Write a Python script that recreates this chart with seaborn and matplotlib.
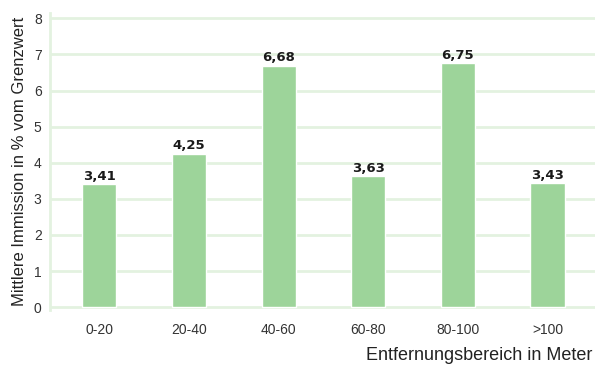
import matplotlib
matplotlib.use("Agg")
import matplotlib.pyplot as plt
import seaborn as sns
import pandas as pd

categories = ["0-20", "20-40", "40-60", "60-80", "80-100", ">100"]
values = [3.41, 4.25, 6.68, 3.63, 6.75, 3.43]
value_labels = ["3,41", "4,25", "6,68", "3,63", "6,75", "3,43"]
y_ticks = [0, 1, 2, 3, 4, 5, 6, 7, 8]

sns.set_theme(style="white")
plt.rcParams['font.family'] = ['Liberation Sans', 'DejaVu Sans']

df = pd.DataFrame({"cat": categories, "val": values})

fig = plt.figure(figsize=(5.95, 3.67), dpi=100)
ax = fig.add_axes([0.084, 0.155, 0.916, 0.81])

grid_c = "#e3f2e0"
for t in y_ticks:
    ax.axhline(t, color=grid_c, lw=2.0, zorder=0)

sns.barplot(data=df, x="cat", y="val", color="#9dd49a", saturation=1,
            width=0.38, ax=ax, zorder=2)

for i, (v, lab) in enumerate(zip(values, value_labels)):
    ax.text(i, v + 0.04, lab, ha="center", va="bottom", fontsize=9.5,
            fontweight="bold", color="#1a1a1a", family="DejaVu Sans")

ax.set_xlim(-0.55, 5.53)
ax.set_ylim(-0.08, 8.15)
ax.set_yticks(y_ticks)
ax.set_yticklabels([str(t) for t in y_ticks])
ax.tick_params(axis="both", labelsize=10, colors="#333333", length=0, pad=6)
ax.tick_params(axis="x", pad=9)

for s in ["top", "right", "bottom"]:
    ax.spines[s].set_visible(False)
ax.spines["left"].set_color(grid_c)
ax.spines["left"].set_linewidth(2.0)

ax.set_ylabel("Mittlere Immission in % vom Grenzwert", fontsize=12, color="#222222", labelpad=5)
ax.set_xlabel("")
fig.text(0.995, 0.008, "Entfernungsbereich in Meter", ha="right", va="bottom",
         fontsize=13, color="#222222")

fig.savefig("out.png", dpi=100, facecolor="white")
